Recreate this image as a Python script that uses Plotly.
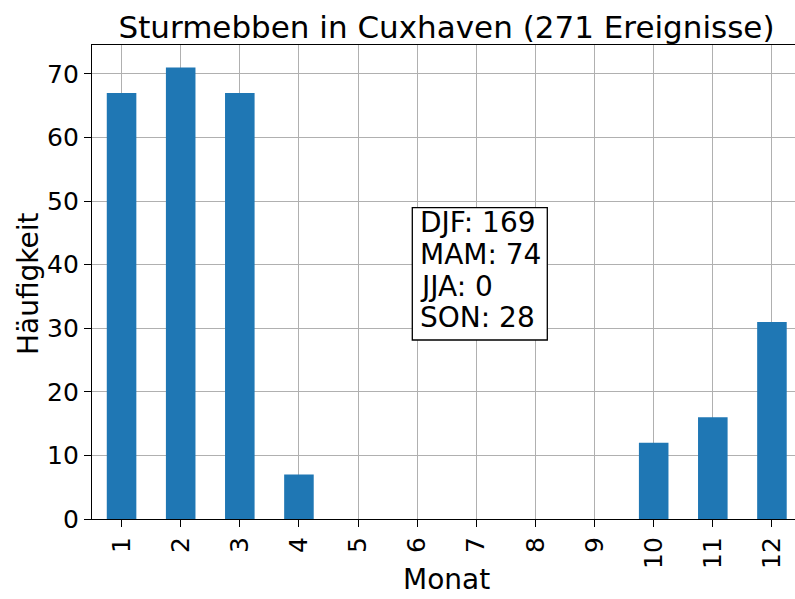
import plotly.graph_objects as go

months = [str(m) for m in range(1, 13)]
counts = [67, 71, 67, 7, 0, 0, 0, 0, 0, 12, 16, 31]
season_labels = ["DJF", "MAM", "JJA", "SON"]
season_counts = [169, 74, 0, 28]
title = "Sturmebben in Cuxhaven (271 Ereignisse)"

FONT = "DejaVu Sans"
L, R, T, B = 92, 795, 45, 519
W, H = 795, 599
pw, ph = R - L, B - T

def px(x):
    return (x - L) / pw

def py(y):
    return (B - y) / ph

fig = go.Figure()
fig.add_trace(go.Bar(x=list(range(12)), y=counts, width=0.5,
                     marker=dict(color="#1f77b4", line=dict(width=0))))

# text box
fig.add_shape(type="rect", xref="paper", yref="paper",
              x0=px(412.3), x1=px(547.3), y0=py(340), y1=py(207.7),
              line=dict(color="black", width=1.3), fillcolor="white", layer="above")
line_centers = [223, 254.5, 286, 317]
for (lab, c), yc in zip(zip(season_labels, season_counts), line_centers):
    fig.add_annotation(x=px(418), y=py(yc), xref="paper", yref="paper",
                       text=f"{lab}: {c}", showarrow=False,
                       xanchor="left", yanchor="middle", align="left",
                       font=dict(family=FONT, size=28, color="black"))

# axis titles
fig.add_annotation(x=px(446.5), y=py(579), xref="paper", yref="paper", text="Monat",
                   showarrow=False, xanchor="center", yanchor="middle",
                   font=dict(family=FONT, size=28, color="black"))
fig.add_annotation(x=px(28), y=py(284), xref="paper", yref="paper", text="Häufigkeit",
                   showarrow=False, xanchor="center", yanchor="middle", textangle=-90,
                   font=dict(family=FONT, size=28, color="black"))

fig.update_layout(
    width=W, height=H,
    margin=dict(l=L, r=W - R, t=T, b=H - B, autoexpand=False),
    plot_bgcolor="white", paper_bgcolor="white",
    showlegend=False,
    font=dict(family=FONT, color="black"),
    title=dict(text=title, x=px(446.5), xref="paper", xanchor="center",
               y=1 - 38 / H, yref="container", yanchor="bottom",
               font=dict(family=FONT, size=31, color="black")),
    xaxis=dict(range=[-0.5, 11.39], tickmode="array", tickvals=list(range(12)),
               ticktext=months, tickangle=-90, ticks="outside", ticklen=7,
               tickwidth=1.2, tickcolor="black", automargin=False,
               showgrid=True, gridcolor="#b0b0b0", gridwidth=1,
               showline=True, linecolor="black", linewidth=1.2, mirror=True,
               layer="above traces", zeroline=False,
               tickfont=dict(size=25)),
    yaxis=dict(range=[0, 74.55], tickvals=[0, 10, 20, 30, 40, 50, 60, 70],
               ticks="outside", ticklen=7, tickwidth=1.2, tickcolor="black",
               automargin=False,
               showgrid=True, gridcolor="#b0b0b0", gridwidth=1,
               showline=True, linecolor="black", linewidth=1.2, mirror=False,
               layer="above traces", zeroline=False,
               tickfont=dict(size=25)),
)

fig.write_html("out.html", config={"displayModeBar": False},
               post_script="document.body.style.margin='0';document.body.style.overflow='hidden';")
